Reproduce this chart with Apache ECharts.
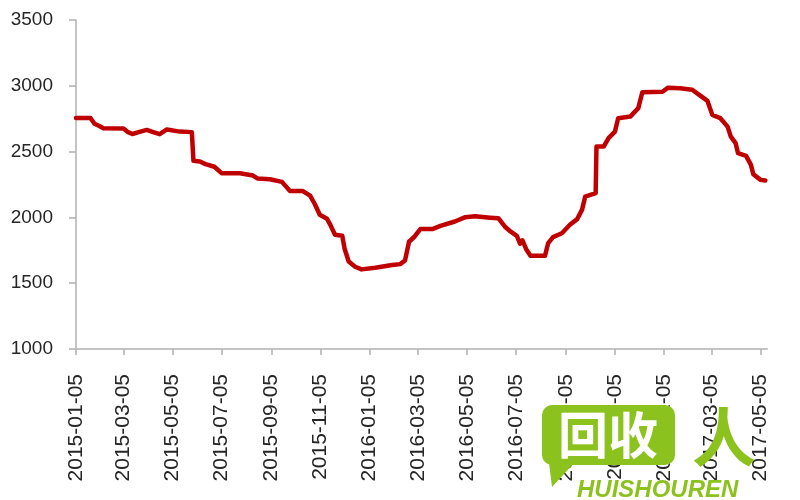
<!DOCTYPE html>
<html><head><meta charset="utf-8">
<script src="https://cdn.jsdelivr.net/npm/echarts@6/dist/echarts.min.js"></script>
<style>html,body{margin:0;padding:0;background:#fff}#c{width:800px;height:500px}</style>
</head><body><div id="c"></div>
<script>
const dates = [
'2015-01-05','2015-01-23','2015-01-28','2015-02-03','2015-02-08','2015-03-05','2015-03-10','2015-03-16','2015-03-25','2015-04-03',
'2015-04-10','2015-04-19','2015-04-28','2015-05-14','2015-05-29','2015-05-31','2015-06-08','2015-06-15','2015-06-26','2015-07-05',
'2015-07-28','2015-08-13','2015-08-19','2015-09-03','2015-09-18','2015-09-28','2015-10-14','2015-10-23','2015-10-29','2015-11-04',
'2015-11-13','2015-11-17','2015-11-23','2015-12-02','2015-12-05','2015-12-10','2015-12-18','2015-12-26','2016-01-12','2016-02-02',
'2016-02-12','2016-02-18','2016-02-23','2016-03-01','2016-03-08','2016-03-23','2016-04-02','2016-04-20','2016-05-03','2016-05-15',
'2016-06-03','2016-06-13','2016-06-21','2016-06-28','2016-07-06','2016-07-10','2016-07-13','2016-07-18','2016-07-23','2016-08-10',
'2016-08-14','2016-08-20','2016-08-31','2016-09-10','2016-09-19','2016-09-25','2016-09-29','2016-10-12','2016-10-13','2016-10-22',
'2016-10-28','2016-11-05','2016-11-09','2016-11-24','2016-12-04','2016-12-09','2017-01-03','2017-01-10','2017-01-25','2017-02-09',
'2017-02-19','2017-02-28','2017-03-06','2017-03-16','2017-03-25','2017-03-29','2017-04-04','2017-04-07','2017-04-17','2017-04-23',
'2017-04-26','2017-05-05','2017-05-11'
];
const prices = [
2755,2755,2712,2695,2678,2675,2650,2634,2650,2665,
2650,2632,2668,2652,2648,2430,2425,2405,2385,2336,
2336,2318,2295,2290,2270,2200,2200,2165,2100,2020,
1990,1945,1868,1860,1760,1665,1625,1605,1618,1638,
1645,1673,1815,1855,1911,1911,1935,1969,2002,2008,
1998,1994,1931,1893,1860,1800,1825,1754,1708,1708,
1805,1850,1880,1944,1987,2057,2158,2184,2538,2538,
2602,2652,2754,2766,2830,2951,2955,2986,2981,2970,
2925,2885,2779,2754,2690,2614,2564,2488,2467,2399,
2328,2285,2280
];
const tickDates = ['2015-01-05','2015-03-05','2015-05-05','2015-07-05','2015-09-05','2015-11-05',
'2016-01-05','2016-03-05','2016-05-05','2016-07-05','2016-09-05','2016-11-05',
'2017-01-05','2017-03-05','2017-05-05'];
const xMin = '2015-01-05', xMax = '2017-05-13';
const yMin = 1000, yMax = 3500, yStep = 500;

const DAY = 86400000;
function utc(s){const p=s.split('-').map(Number);return Date.UTC(p[0],p[1]-1,p[2]);}
const base = utc(xMin);
function dayOf(s){return Math.round((utc(s)-base)/DAY);}
function fmt(v){const d=new Date(base+Math.round(v)*DAY);const p=n=>(n<10?'0':'')+n;return d.getUTCFullYear()+'-'+p(d.getUTCMonth()+1)+'-'+p(d.getUTCDate());}
const tickDays = tickDates.map(dayOf);

const chart = echarts.init(document.getElementById('c'), null, {renderer:'canvas'});
chart.setOption({
  animation:false,
  backgroundColor:'#ffffff',
  grid:{left:76,top:20,right:33,bottom:151,containLabel:false},
  xAxis:{
    type:'value', min:0, max:dayOf(xMax),
    axisLine:{show:true,lineStyle:{color:'#c4c4c4',width:2}},
    axisTick:{show:true,length:6,customValues:tickDays,lineStyle:{color:'#b0b0b0',width:1.5}},
    axisLabel:{customValues:tickDays,rotate:90,margin:25,fontFamily:'Liberation Sans',fontSize:21,color:'#262626',formatter:fmt,showMaxLabel:true,showMinLabel:true},
    splitLine:{show:false}, minorTick:{show:false}
  },
  yAxis:{
    type:'value', min:yMin, max:yMax, interval:yStep,
    axisLine:{show:true,lineStyle:{color:'#b0b0b0',width:1.5}},
    axisTick:{show:true,length:7,lineStyle:{color:'#b0b0b0',width:1.5}},
    axisLabel:{margin:23,fontFamily:'Liberation Sans',fontSize:19,color:'#262626',formatter:v=>String(v)},
    splitLine:{show:false}
  },
  series:[{
    type:'line', showSymbol:false, symbol:'none',
    data:dates.map((d,i)=>[dayOf(d),prices[i]]),
    lineStyle:{color:'#C00000',width:4.5,join:'round',cap:'round'},
    itemStyle:{color:'#C00000'}
  }],
  graphic:[
    {type:'rect',z:100,shape:{x:542,y:405,width:133,height:60,r:10},style:{fill:'#8CC21E'}},
    {type:'polygon',z:100,shape:{points:[[548,455],[575,462],[552,487]]},style:{fill:'#8CC21E'}},
    {type:'text',z:101,x:608,y:435,style:{text:'回收',fill:'#ffffff',font:'bold 50px "Noto Sans CJK SC"',align:'center',verticalAlign:'middle'}},
    {type:'text',z:101,x:577,y:478,style:{text:'HUISHOUREN',fill:'#8CC21E',font:'italic bold 24px "Liberation Sans"',align:'left',verticalAlign:'top'}},
    {type:'text',z:101,x:724,y:437,style:{text:'人',fill:'#8CC21E',font:'bold 64px "Noto Sans CJK SC"',align:'center',verticalAlign:'middle'}}
  ]
});
</script></body></html>
